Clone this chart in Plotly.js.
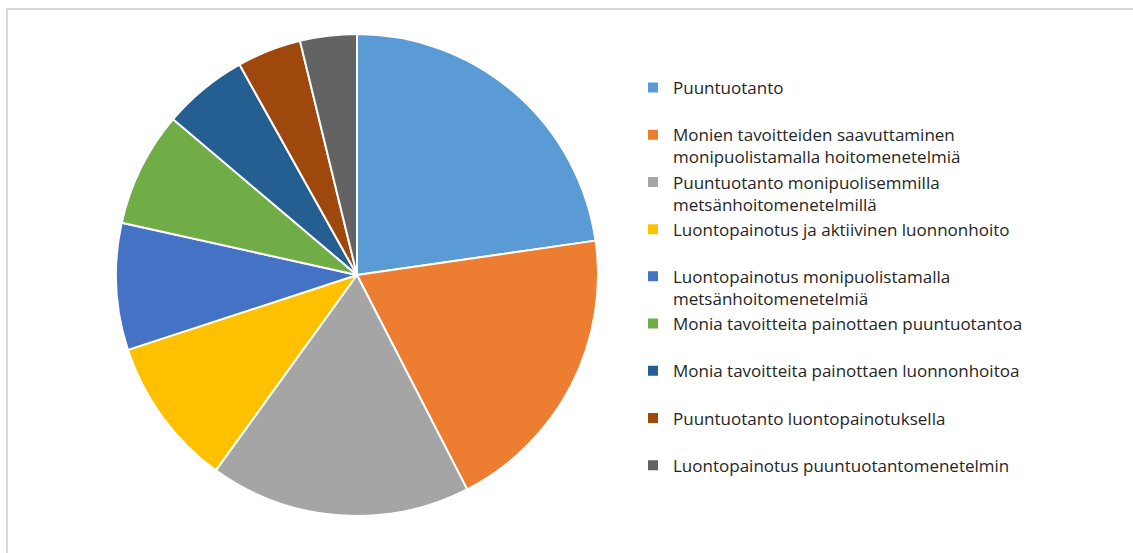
<!DOCTYPE html>
<html>
<head>
<meta charset="utf-8">
<script src="https://cdn.plot.ly/plotly-3.0.1.min.js"></script>
<style>
  html, body { margin: 0; padding: 0; background: #fff; }
  #chart { position: absolute; left: 0; top: 0; width: 1133px; height: 553px; }
  #frame { position: absolute; left: 6px; top: 8px; width: 1140px; height: 560px;
           border-left: 2px solid #d9d9d9; border-top: 2px solid #d9d9d9; pointer-events: none; }
</style>
</head>
<body>
<div id="chart"></div>
<div id="frame"></div>
<script>
const categories = [
  "Puuntuotanto",
  "Monien tavoitteiden saavuttaminen<br>monipuolistamalla hoitomenetelmiä",
  "Puuntuotanto monipuolisemmilla<br>metsänhoitomenetelmillä",
  "Luontopainotus ja aktiivinen luonnonhoito",
  "Luontopainotus monipuolistamalla<br>metsänhoitomenetelmiä",
  "Monia tavoitteita painottaen puuntuotantoa",
  "Monia tavoitteita painottaen luonnonhoitoa",
  "Puuntuotanto luontopainotuksella",
  "Luontopainotus puuntuotantomenetelmin"
];
const values = [22.7, 19.7, 17.5, 10.0, 8.5, 7.7, 5.7, 4.3, 3.8];
const colors = ["#5B9BD5", "#ED7D31", "#A5A5A5", "#FFC000", "#4472C4", "#70AD47", "#255E91", "#9E480E", "#636363"];

// pad single-line legend entries to two lines so every entry has equal height
const labels = categories.map(c => c.indexOf("<br>") >= 0 ? c : c + "<br>\u00a0");

const W = 1133, H = 553;
const cx = 357, cy = 275, r = 241;

const trace = {
  type: "pie",
  labels: labels,
  values: values,
  sort: false,
  direction: "clockwise",
  rotation: 0,
  textinfo: "none",
  hoverinfo: "label+percent",
  marker: { colors: colors, line: { color: "#ffffff", width: 2 } },
  domain: { x: [(cx - r) / W, (cx + r) / W], y: [(H - cy - r) / H, (H - cy + r) / H] }
};

const layout = {
  width: W, height: H,
  margin: { l: 0, r: 0, t: 0, b: 0 },
  paper_bgcolor: "#ffffff",
  showlegend: true,
  legend: {
    x: 633 / W, xanchor: "left",
    y: 1 - 70 / H, yanchor: "top",
    valign: "top",
    itemwidth: 30,
    font: { family: "'Open Sans', sans-serif", size: 17, color: "#262626" },
    bgcolor: "rgba(0,0,0,0)"
  },
  font: { family: "'Open Sans', sans-serif" }
};

Plotly.newPlot("chart", [trace], layout, { staticPlot: true, displayModeBar: false });
</script>
</body>
</html>
